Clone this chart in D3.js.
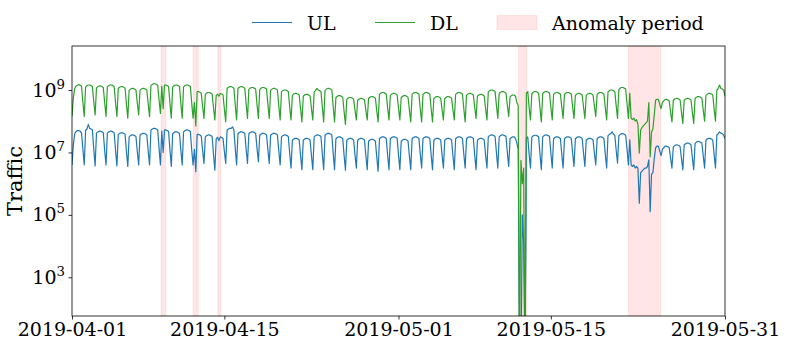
<!DOCTYPE html>
<html>
<head>
<meta charset="utf-8">
<script src="https://cdn.jsdelivr.net/npm/d3@7"></script>
<style>
  body { margin: 0; background: #fff; }
  svg { font-family: "DejaVu Serif", serif; }
</style>
</head>
<body>
<div id="chart"></div>
<script>
// time range and sampling
const startDay = "2019-04-01";
const endDay = "2019-05-31";
const sampleHours = [0, 3, 6, 9, 12, 15, 18, 21];

// log10(traffic), one row per day from 2019-04-01, 3-hourly samples
const dlLog = [
  [8.15, 8.75, 9.05, 9.12, 9.15, 9.18, 9.15, 9.12],
  [8.6, 8.15, 9.1, 9.14, 9.16, 9.16, 9.14, 9.11],
  [8.63, 8.2, 9.07, 9.11, 9.13, 9.13, 9.11, 9.08],
  [8.6, 8.15, 9.1, 9.14, 9.16, 9.16, 9.14, 9.11],
  [8.6, 8.15, 9.05, 9.09, 9.11, 9.11, 9.09, 9.06],
  [8.55, 8.1, 8.99, 9.03, 9.05, 9.05, 9.03, 9.0],
  [8.58, 8.2, 8.99, 9.03, 9.05, 9.05, 9.03, 9.0],
  [8.55, 8.15, 9.14, 9.18, 9.2, 9.2, 9.18, 9.15],
  [8.68, 8.25, 9.12, 8.4, 9.16, 9.16, 9.14, 9.11],
  [8.58, 8.1, 9.1, 9.14, 9.16, 9.16, 9.14, 9.11],
  [8.58, 8.1, 9.1, 9.14, 9.16, 9.16, 9.14, 9.11],
  [8.58, 8.1, 8.6, 7.85, 8.95, 8.95, 8.93, 8.9],
  [8.48, 8.09, 8.86, 8.9, 8.92, 8.92, 8.9, 8.87],
  [8.44, 8.04, 8.83, 8.87, 8.8, 8.89, 8.87, 8.84],
  [8.39, 7.98, 9.05, 9.09, 9.11, 9.11, 9.09, 9.06],
  [8.52, 8.04, 9.05, 9.09, 9.11, 9.11, 9.09, 9.06],
  [8.55, 8.09, 9.02, 9.06, 9.08, 9.08, 9.06, 9.03],
  [8.54, 8.09, 9.02, 9.06, 9.08, 9.08, 9.06, 9.03],
  [8.54, 8.09, 8.99, 9.03, 9.05, 9.05, 9.03, 9.0],
  [8.5, 8.04, 8.94, 8.98, 9.0, 9.0, 8.98, 8.95],
  [8.47, 8.04, 8.83, 8.87, 8.89, 8.89, 8.87, 8.84],
  [8.39, 7.98, 8.8, 8.84, 8.86, 8.86, 8.84, 8.81],
  [8.41, 8.04, 8.94, 8.98, 9.05, 9.0, 8.98, 8.95],
  [8.46, 7.98, 8.99, 9.03, 9.05, 9.05, 9.03, 9.0],
  [8.46, 7.98, 8.76, 8.8, 8.82, 8.82, 8.8, 8.77],
  [8.31, 7.9, 8.7, 8.74, 8.76, 8.76, 8.74, 8.71],
  [8.36, 8.04, 8.67, 8.71, 8.73, 8.73, 8.71, 8.68],
  [8.35, 8.04, 8.73, 8.77, 8.79, 8.79, 8.77, 8.74],
  [8.34, 7.98, 8.86, 8.9, 8.92, 8.92, 8.9, 8.87],
  [8.44, 8.04, 8.83, 8.87, 8.89, 8.89, 8.87, 8.84],
  [8.42, 8.04, 8.76, 8.8, 8.82, 8.82, 8.8, 8.77],
  [8.36, 7.98, 8.86, 8.9, 8.92, 8.92, 8.9, 8.87],
  [8.4, 7.98, 8.86, 8.9, 8.92, 8.92, 8.9, 8.87],
  [8.4, 7.98, 8.73, 8.77, 8.79, 8.79, 8.77, 8.74],
  [8.38, 8.04, 8.73, 8.77, 8.79, 8.79, 8.77, 8.74],
  [8.38, 8.04, 8.86, 8.9, 8.92, 8.92, 8.9, 8.87],
  [8.4, 7.98, 8.83, 8.87, 8.89, 8.89, 8.87, 8.84],
  [8.45, 8.09, 8.8, 8.84, 8.86, 8.86, 8.84, 8.81],
  [8.41, 8.04, 8.94, 8.98, 9.0, 9.0, 8.98, 8.95],
  [8.5, 8.09, 8.89, 8.93, 8.95, 8.95, 8.93, 8.9],
  [8.51, 8.15, 8.78, 8.82, 8.84, 8.84, 8.8, 8.6],
  [8.5, 0, 6.75, 6.0, 6.5, 0, 8.9, 8.95],
  [8.45, 8.04, 8.89, 8.93, 8.95, 8.95, 8.93, 8.9],
  [8.42, 7.98, 8.89, 8.93, 8.95, 8.95, 8.93, 8.9],
  [8.45, 8.04, 8.86, 8.9, 8.92, 8.92, 8.9, 8.87],
  [8.46, 8.09, 8.86, 8.9, 8.92, 8.92, 8.9, 8.87],
  [8.46, 8.09, 8.83, 8.87, 8.89, 8.89, 8.87, 8.84],
  [8.45, 8.09, 8.83, 8.87, 8.89, 8.89, 8.87, 8.84],
  [8.48, 8.15, 8.86, 8.9, 8.92, 8.92, 8.9, 8.87],
  [8.44, 8.04, 8.94, 8.98, 9.0, 9.0, 8.98, 8.95],
  [8.5, 8.09, 9.02, 9.06, 9.08, 9.08, 9.06, 9.03],
  [8.55, 8.09, 8.9, 8.1, 8.05, 8.1, 8.0, 8.05],
  [7.9, 6.98, 7.72, 7.8, 7.85, 7.9, 7.95, 8.0],
  [8.6, 6.86, 7.65, 7.75, 8.2, 8.68, 8.7, 8.7],
  [8.55, 8.4, 8.6, 8.65, 8.7, 8.7, 8.68, 8.65],
  [8.3, 7.98, 8.67, 8.71, 8.73, 8.73, 8.71, 8.68],
  [8.29, 7.93, 8.67, 8.71, 8.73, 8.73, 8.71, 8.68],
  [8.29, 7.93, 8.73, 8.77, 8.79, 8.79, 8.77, 8.74],
  [8.36, 8.0, 8.83, 8.87, 8.89, 8.89, 8.87, 8.84],
  [8.4, 8.0, 8.99, 9.05, 9.16, 9.05, 9.03, 9.0],
  [8.8]
];

const ulLog = [
  [6.6, 7.25, 7.6, 7.67, 7.7, 7.7, 7.68, 7.62],
  [7.1, 6.6, 7.71, 7.75, 7.9, 7.77, 7.75, 7.72],
  [7.1, 6.57, 7.62, 7.66, 7.68, 7.68, 7.66, 7.63],
  [7.08, 6.6, 7.62, 7.66, 7.68, 7.68, 7.66, 7.63],
  [7.07, 6.57, 7.57, 7.61, 7.63, 7.63, 7.61, 7.58],
  [7.04, 6.55, 7.5, 7.54, 7.56, 7.56, 7.54, 7.51],
  [7.03, 6.6, 7.55, 7.59, 7.61, 7.61, 7.59, 7.56],
  [7.05, 6.6, 7.71, 7.75, 7.77, 7.77, 7.75, 7.72],
  [7.13, 6.6, 7.68, 7.0, 7.72, 7.72, 7.7, 7.67],
  [7.08, 6.55, 7.6, 7.64, 7.66, 7.66, 7.64, 7.61],
  [7.08, 6.6, 7.66, 7.7, 7.72, 7.72, 7.7, 7.67],
  [7.08, 6.6, 7.1, 6.38, 7.58, 7.58, 7.56, 7.53],
  [7.07, 6.65, 7.5, 7.54, 7.56, 7.56, 7.54, 7.51],
  [6.94, 6.43, 7.44, 7.48, 7.38, 7.5, 7.48, 7.45],
  [7.03, 6.65, 7.71, 7.75, 7.77, 7.77, 7.82, 7.72],
  [7.13, 6.6, 7.6, 7.64, 7.66, 7.66, 7.64, 7.61],
  [7.1, 6.65, 7.6, 7.64, 7.66, 7.66, 7.64, 7.61],
  [7.13, 6.7, 7.55, 7.59, 7.61, 7.61, 7.59, 7.56],
  [7.08, 6.65, 7.55, 7.59, 7.61, 7.61, 7.59, 7.56],
  [7.05, 6.6, 7.5, 7.54, 7.56, 7.56, 7.54, 7.51],
  [6.98, 6.5, 7.39, 7.43, 7.45, 7.45, 7.43, 7.4],
  [6.9, 6.45, 7.39, 7.43, 7.45, 7.45, 7.43, 7.4],
  [6.9, 6.45, 7.5, 7.54, 7.56, 7.56, 7.54, 7.51],
  [6.95, 6.45, 7.55, 7.59, 7.61, 7.61, 7.59, 7.56],
  [6.97, 6.45, 7.44, 7.48, 7.5, 7.5, 7.48, 7.45],
  [6.91, 6.43, 7.39, 7.43, 7.45, 7.45, 7.43, 7.4],
  [6.93, 6.5, 7.39, 7.43, 7.45, 7.45, 7.43, 7.4],
  [6.9, 6.45, 7.36, 7.4, 7.42, 7.42, 7.4, 7.37],
  [6.86, 6.4, 7.44, 7.48, 7.5, 7.5, 7.48, 7.45],
  [6.92, 6.45, 7.44, 7.48, 7.5, 7.5, 7.48, 7.45],
  [6.92, 6.45, 7.36, 7.4, 7.42, 7.42, 7.4, 7.37],
  [6.89, 6.45, 7.44, 7.48, 7.5, 7.5, 7.48, 7.45],
  [6.95, 6.5, 7.44, 7.48, 7.5, 7.5, 7.48, 7.45],
  [6.92, 6.45, 7.39, 7.43, 7.45, 7.45, 7.43, 7.4],
  [6.93, 6.5, 7.39, 7.43, 7.45, 7.45, 7.43, 7.4],
  [6.9, 6.45, 7.44, 7.48, 7.5, 7.5, 7.48, 7.45],
  [6.95, 6.5, 7.44, 7.48, 7.5, 7.5, 7.48, 7.45],
  [6.92, 6.45, 7.39, 7.43, 7.45, 7.45, 7.43, 7.4],
  [6.93, 6.5, 7.5, 7.54, 7.56, 7.56, 7.54, 7.51],
  [6.98, 6.5, 7.5, 7.54, 7.56, 7.56, 7.54, 7.51],
  [7.0, 6.55, 7.44, 7.48, 7.5, 7.5, 7.45, 7.3],
  [7.1, 0, 0, 5.0, 4.15, 0, 7.45, 7.5],
  [6.95, 6.5, 7.49, 7.53, 7.55, 7.55, 7.53, 7.5],
  [6.95, 6.45, 7.5, 7.54, 7.56, 7.56, 7.54, 7.51],
  [6.98, 6.5, 7.44, 7.48, 7.5, 7.5, 7.48, 7.45],
  [6.95, 6.5, 7.44, 7.48, 7.5, 7.5, 7.48, 7.45],
  [6.98, 6.55, 7.44, 7.48, 7.5, 7.5, 7.48, 7.45],
  [6.98, 6.55, 7.39, 7.43, 7.45, 7.45, 7.43, 7.4],
  [6.98, 6.6, 7.44, 7.48, 7.5, 7.5, 7.48, 7.45],
  [6.95, 6.5, 7.54, 7.58, 7.6, 7.66, 7.58, 7.55],
  [7.08, 6.66, 7.54, 7.58, 7.6, 7.6, 7.58, 7.55],
  [7.1, 6.6, 7.4, 6.6, 6.55, 6.6, 6.5, 6.55],
  [6.5, 5.37, 6.35, 6.4, 6.45, 6.5, 6.5, 6.55],
  [6.76, 5.1, 6.3, 6.35, 6.8, 7.15, 7.2, 7.2],
  [7.05, 6.9, 7.1, 7.15, 7.2, 7.2, 7.18, 7.15],
  [6.82, 6.5, 7.18, 7.22, 7.24, 7.24, 7.22, 7.19],
  [6.8, 6.45, 7.24, 7.28, 7.3, 7.3, 7.28, 7.25],
  [6.83, 6.45, 7.29, 7.33, 7.35, 7.35, 7.33, 7.3],
  [6.88, 6.5, 7.39, 7.43, 7.45, 7.45, 7.43, 7.4],
  [6.93, 6.5, 7.56, 7.6, 7.66, 7.62, 7.6, 7.55],
  [7.45]
];

// shaded anomaly periods
const anomalyStarts = ["2019-04-09T04:20Z", "2019-04-12T03:30Z", "2019-04-14T09:30Z", "2019-05-12T00:30Z", "2019-05-22T03:00Z"];
const anomalyEnds   = ["2019-04-09T15:00Z", "2019-04-12T14:30Z", "2019-04-14T16:00Z", "2019-05-12T19:00Z", "2019-05-25T02:30Z"];

const xTickDates = ["2019-04-01", "2019-04-15", "2019-05-01", "2019-05-15", "2019-05-31"];
const yTickExps = [3, 5, 7, 9];
const yDomainExps = [1.76, 10.41];

const seriesNames = ["UL", "DL"];
const seriesColors = ["#1f77b4", "#2ca02c"];

const size = { width: 789, height: 350 };
const plot = { left: 72, right: 725, top: 46, bottom: 316 };
const fontSize = 19;

const svg = d3.select("#chart")
  .append("svg")
  .attr("width", size.width)
  .attr("height", size.height);

const x = d3.scaleUtc()
  .domain([new Date(startDay), new Date(endDay)])
  .range([plot.left, plot.right]);

const y = d3.scaleLog()
  .domain(yDomainExps.map(e => Math.pow(10, e)))
  .range([plot.bottom, plot.top]);

const t0 = new Date(startDay).getTime();

function toPoints(rows) {
  const pts = [];
  rows.forEach((row, d) => {
    row.forEach((v, i) => {
      pts.push({ t: new Date(t0 + (d * 24 + sampleHours[i]) * 3600e3), v: Math.pow(10, v) });
    });
  });
  return pts;
}

svg.append("clipPath")
    .attr("id", "plotClip")
  .append("rect")
    .attr("x", plot.left)
    .attr("y", plot.top)
    .attr("width", plot.right - plot.left)
    .attr("height", plot.bottom - plot.top);

// anomaly bands
svg.append("g")
    .attr("clip-path", "url(#plotClip)")
  .selectAll("rect")
  .data(anomalyStarts.map((s, i) => [new Date(s), new Date(anomalyEnds[i])]))
  .enter().append("rect")
    .attr("x", d => x(d[0]))
    .attr("width", d => x(d[1]) - x(d[0]))
    .attr("y", plot.top)
    .attr("height", plot.bottom - plot.top)
    .attr("fill", "red")
    .attr("fill-opacity", 0.1)
    .attr("stroke", "red")
    .attr("stroke-opacity", 0.08)
    .attr("stroke-width", 1);

const line = d3.line()
    .x(d => x(d.t))
    .y(d => y(d.v));

const lines = svg.append("g")
    .attr("clip-path", "url(#plotClip)");

[ulLog, dlLog].forEach((rows, i) => {
  lines.append("path")
      .datum(toPoints(rows))
      .attr("fill", "none")
      .attr("stroke", seriesColors[i])
      .attr("stroke-width", 1.2)
      .attr("stroke-linejoin", "round")
      .attr("d", line);
});

// x axis
const xAxis = svg.append("g")
    .attr("transform", "translate(0," + plot.bottom + ")")
    .call(d3.axisBottom(x)
      .tickValues(xTickDates.map(d => new Date(d)))
      .tickFormat(d3.utcFormat("%Y-%m-%d"))
      .tickSize(3.5)
      .tickPadding(3.5)
      .tickSizeOuter(0));
xAxis.select(".domain").remove();
xAxis.selectAll("text")
    .attr("font-size", fontSize)
    .attr("font-family", "DejaVu Serif")
    .attr("fill", "#000");
xAxis.selectAll("line").attr("stroke", "#000").attr("stroke-width", 0.8);

// y axis with 10^n labels
const yAxis = svg.append("g")
    .attr("transform", "translate(" + plot.left + ",0)")
    .call(d3.axisLeft(y)
      .tickValues(yTickExps.map(e => Math.pow(10, e)))
      .tickFormat("")
      .tickSize(3.5)
      .tickSizeOuter(0));
yAxis.select(".domain").remove();
yAxis.selectAll("line").attr("stroke", "#000").attr("stroke-width", 0.8);

const yLabels = svg.append("g")
  .selectAll("text")
  .data(yTickExps)
  .enter().append("text")
    .attr("x", plot.left - 7)
    .attr("y", e => y(Math.pow(10, e)) + 6.5)
    .attr("text-anchor", "end")
    .attr("font-size", fontSize)
    .attr("fill", "#000");
yLabels.append("tspan").text("10");
yLabels.append("tspan")
    .attr("dy", -8)
    .attr("font-size", fontSize * 0.7)
    .text(e => e);

// frame
svg.append("rect")
    .attr("x", plot.left)
    .attr("y", plot.top)
    .attr("width", plot.right - plot.left)
    .attr("height", plot.bottom - plot.top)
    .attr("fill", "none")
    .attr("stroke", "#000")
    .attr("stroke-width", 0.8);

svg.append("text")
    .attr("transform", "translate(22," + ((plot.top + plot.bottom) / 2) + ") rotate(-90)")
    .attr("text-anchor", "middle")
    .attr("font-size", 21)
    .attr("fill", "#000")
    .text("Traffic");

// legend above the plot
const legend = svg.append("g");
const legendY = 22.5;
const legendX = [252, 375];
seriesNames.forEach((name, i) => {
  legend.append("line")
      .attr("x1", legendX[i]).attr("x2", legendX[i] + 40)
      .attr("y1", legendY).attr("y2", legendY)
      .attr("stroke", seriesColors[i])
      .attr("stroke-width", 1.2);
  legend.append("text")
      .attr("x", legendX[i] + 55)
      .attr("y", legendY + 7)
      .attr("font-size", fontSize)
      .text(name);
});
legend.append("rect")
    .attr("x", 497).attr("y", legendY - 7)
    .attr("width", 40).attr("height", 14)
    .attr("fill", "red").attr("fill-opacity", 0.1)
    .attr("stroke", "red").attr("stroke-opacity", 0.08);
legend.append("text")
    .attr("x", 552)
    .attr("y", legendY + 7)
    .attr("font-size", fontSize)
    .text("Anomaly period");
</script>
</body>
</html>
